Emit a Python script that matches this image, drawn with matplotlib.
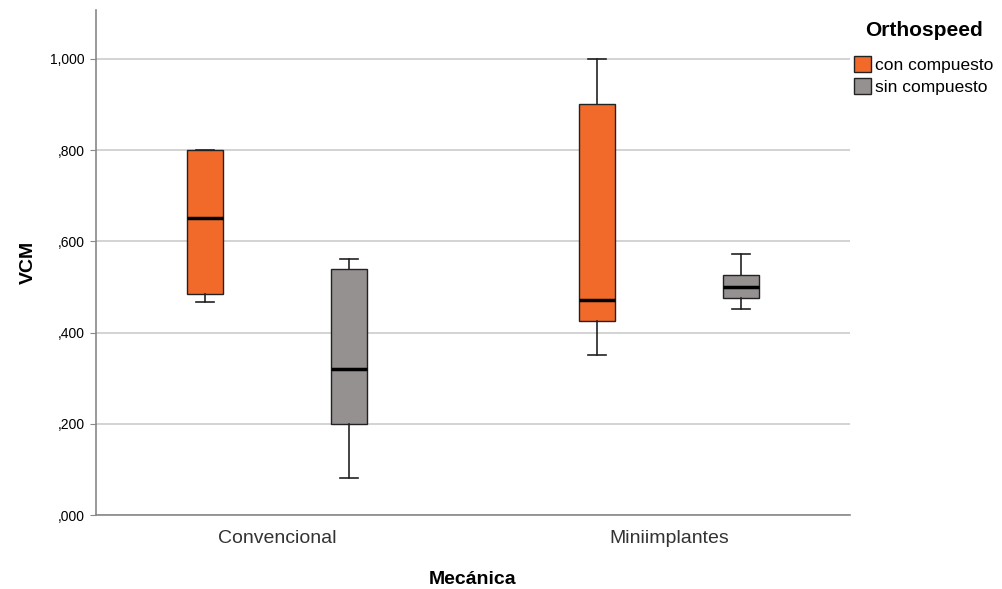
import numpy as np
import matplotlib.pyplot as plt
from matplotlib.patches import Patch

plt.rcParams['font.family'] = ['Liberation Sans', 'DejaVu Sans']

# datos
categorias = ['Convencional', 'Miniimplantes']
grupos = ['con compuesto', 'sin compuesto']
colores = ['#F26A2A', '#959190']

# [whislo, q1, med, q3, whishi] por categoría
con_compuesto = [[0.467, 0.485, 0.651, 0.800, 0.800],
                 [0.351, 0.425, 0.471, 0.901, 1.000]]
sin_compuesto = [[0.081, 0.200, 0.320, 0.539, 0.561],
                 [0.452, 0.476, 0.500, 0.526, 0.572]]

fig = plt.figure(figsize=(10.03, 5.89), dpi=100)
ax = fig.add_axes([0.0957, 0.1256, 0.7518, 0.8574])

offset = 0.184
ancho = 0.092
for g, (serie, col) in enumerate(zip([con_compuesto, sin_compuesto], colores)):
    stats = []
    for vals in serie:
        stats.append(dict(whislo=vals[0], q1=vals[1], med=vals[2], q3=vals[3], whishi=vals[4]))
    pos = np.arange(len(categorias)) + (offset if g else -offset)
    ax.bxp(stats, positions=pos, widths=ancho, capwidths=ancho / 2, showfliers=False,
           patch_artist=True, manage_ticks=False,
           boxprops=dict(facecolor=col, edgecolor='#222222', linewidth=1.0),
           medianprops=dict(color='black', linewidth=2.5),
           whiskerprops=dict(color='#222222', linewidth=1.2),
           capprops=dict(color='#222222', linewidth=1.2), zorder=3)

ax.set_xlim(-0.462, 1.462)
ax.set_ylim(0, 1.107)
ax.set_yticks([0, 0.2, 0.4, 0.6, 0.8, 1.0])
ax.set_yticklabels([',000', ',200', ',400', ',600', ',800', '1,000'], fontsize=10)
ax.set_xticks(range(len(categorias)))
ax.set_xticklabels(categorias, fontsize=14, color='#333333')
ax.tick_params(axis='x', length=0, pad=11)
ax.tick_params(axis='y', length=4, color='#888888', pad=4)
ax.grid(axis='y', color='#cccccc', linewidth=1.2, zorder=0)
ax.set_axisbelow(True)
for s in ['top', 'right']:
    ax.spines[s].set_visible(False)
for s in ['left', 'bottom']:
    ax.spines[s].set_color('#888888')
    ax.spines[s].set_linewidth(1.2)

ax.set_xlabel('Mecánica', fontsize=14, fontweight='bold', labelpad=17)
ax.set_ylabel('VCM', fontsize=14, fontweight='bold', labelpad=10)

handles = [Patch(facecolor=c, edgecolor='#222222', label=l) for c, l in zip(colores, grupos)]
leg = fig.legend(handles=handles, title='Orthospeed', loc='upper left',
                 bbox_to_anchor=(0.849, 0.968), frameon=False, fontsize=12.5,
                 title_fontproperties=dict(weight='bold', size=15),
                 handlelength=0.95, handleheight=1.05, handletextpad=0.25,
                 labelspacing=0.3, borderaxespad=0, borderpad=0.15)
leg._legend_box.sep = 11

fig.savefig('out.png', dpi=100)
